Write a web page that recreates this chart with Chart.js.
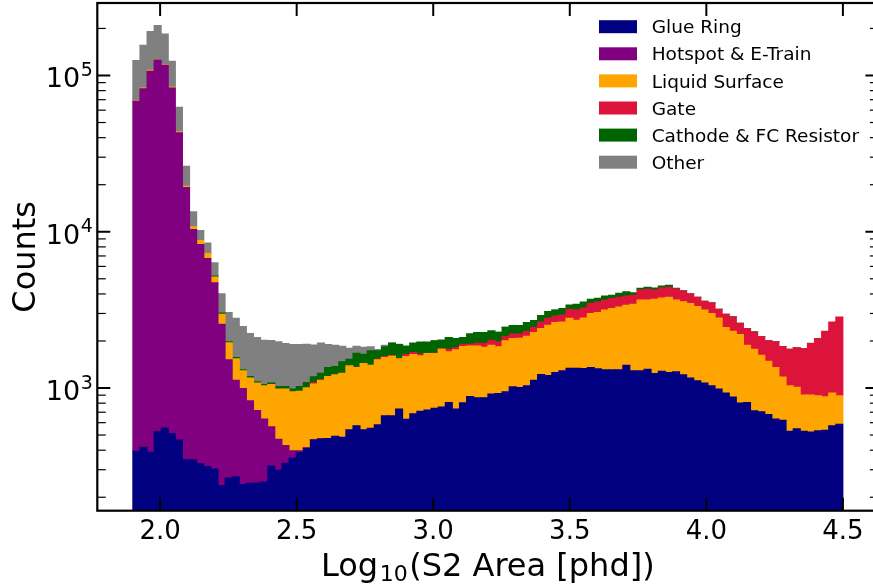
<!DOCTYPE html>
<html>
<head>
<meta charset="utf-8">
<title>S2 area by source</title>
<script src="https://cdn.jsdelivr.net/npm/chart.js@4.4.1/dist/chart.umd.min.js"></script>
<style>
  html, body { margin: 0; padding: 0; background: #fff; overflow: hidden; }
  canvas { display: block; }
</style>
</head>
<body>
<canvas id="s2-chart" width="880" height="588"></canvas>
<script>
// Histogram binning: 100 bins of log10(S2 area) from 1.9 to 4.5
const binStart = 1.9;
const binWidth = 0.026;

// Counts per bin for each source, stacked bottom to top
const glueRing = [
  394, 417, 388, 525, 554, 510, 465, 348, 348, 327,
  314, 303, 238, 266, 270, 241, 246, 247, 250, 317,
  298, 330, 355, 386, 411, 465, 472, 476, 491, 484,
  541, 574, 541, 552, 583, 665, 665, 733, 630, 685,
  709, 723, 741, 755, 809, 733, 805, 884, 866, 866,
  915, 923, 946, 1018, 1009, 1033, 1123, 1221, 1203, 1257,
  1289, 1340, 1340, 1334, 1353, 1327, 1308, 1308, 1308, 1401,
  1289, 1289, 1320, 1239, 1282, 1257, 1270, 1215, 1157, 1112,
  1075, 1033, 984, 928, 875, 801, 809, 716, 705, 678,
  633, 621, 528, 549, 528, 523, 533, 536, 574, 586
];
const hotspot = [
  67900, 81840, 106200, 125000, 115900, 82550, 42600, 18830, 9990, 7970,
  6440, 4420, 2320, 1250, 853, 753, 583, 472, 383, 249,
  172, 98, 42, 11, 4, 2, 1, 0, 0, 0,
  0, 0, 0, 0, 0, 0, 0, 0, 0, 0,
  0, 0, 0, 0, 0, 0, 0, 0, 0, 0,
  0, 0, 0, 0, 0, 0, 0, 0, 0, 0,
  0, 0, 0, 0, 0, 0, 0, 0, 0, 0,
  0, 0, 0, 0, 0, 0, 0, 0, 0, 0,
  0, 0, 0, 0, 0, 0, 0, 0, 0, 0,
  0, 0, 0, 0, 0, 0, 0, 0, 0, 0
];
const liquidSurface = [
  600, 800, 1600, 500, 500, 1240, 640, 380, 420, 505,
  515, 410, 405, 430, 414, 295, 328, 356, 400, 488,
  515, 556, 549, 558, 588, 592, 650, 710, 724, 761,
  846, 779, 894, 849, 932, 903, 934, 804, 961, 953,
  898, 940, 922, 1017, 895, 1022, 1038, 976, 994, 959,
  964, 911, 1057, 1055, 1074, 1112, 1141, 1180, 1319, 1366,
  1360, 1455, 1374, 1474, 1641, 1711, 1851, 1914, 1995, 1983,
  2145, 2372, 2341, 2457, 2487, 2549, 2391, 2356, 2311, 2207,
  2084, 1961, 1824, 1509, 1434, 1397, 1070, 1056, 917, 807,
  720, 553, 505, 464, 373, 378, 359, 343, 354, 306
];
const gate = [
  0, 0, 0, 0, 0, 0, 0, 0, 0, 0,
  0, 0, 0, 0, 0, 0, 0, 0, 0, 0,
  0, 0, 0, 0, 0, 21, 3, 0, 0, 0,
  0, 7, 0, 0, 15, 23, 15, 8, 47, 50,
  39, 8, 8, 17, 68, 52, 64, 47, 76, 111,
  144, 140, 131, 147, 137, 164, 173, 248, 273, 270,
  287, 396, 445, 446, 474, 516, 502, 511, 503, 498,
  486, 578, 620, 543, 598, 604, 663, 606, 529, 487,
  430, 508, 383, 527, 541, 399, 522, 514, 512, 518,
  621, 669, 739, 794, 888, 1035, 1181, 1430, 1721, 1958
];
const cathode = [
  0, 0, 0, 0, 0, 0, 0, 0, 0, 0,
  0, 76, 59, 28, 31, 19, 29, 21, 21, 21,
  39, 39, 38, 68, 82, 100, 116, 167, 158, 226,
  143, 311, 211, 328, 199, 243, 322, 353, 213, 248,
  318, 293, 332, 234, 331, 266, 196, 313, 328, 328,
  297, 301, 315, 290, 290, 314, 264, 258, 288, 266,
  286, 210, 275, 300, 228, 197, 221, 187, 230, 255,
  157, 106, 129, 128, 130, 131, 20, 15, 12, 10,
  8, 6, 5, 4, 4, 3, 3, 2, 2, 2,
  1, 1, 1, 1, 0, 0, 0, 0, 0, 0
];
const other = [
  55800, 73240, 82900, 82700, 67600, 39200, 18820, 6690, 2655, 1390,
  1190, 1130, 994, 1065, 1227, 1166, 1045, 1007, 969, 938,
  951, 903, 914, 875, 822, 708, 697, 545, 506, 380,
  268, 180, 179, 105, 35, 45, 9, 5, 5, 5,
  4, 4, 3, 3, 3, 3, 2, 2, 2, 2,
  2, 2, 2, 1, 1, 1, 1, 1, 1, 1,
  0, 0, 0, 0, 0, 0, 0, 0, 0, 0,
  0, 0, 0, 0, 0, 0, 0, 0, 0, 0,
  0, 0, 0, 0, 0, 0, 0, 0, 0, 0,
  0, 0, 0, 0, 0, 0, 0, 0, 0, 0
];

const seriesLabels = ['Glue Ring', 'Hotspot & E-Train', 'Liquid Surface', 'Gate', 'Cathode & FC Resistor', 'Other'];
const seriesColors = ['navy', 'purple', 'orange', 'crimson', 'darkgreen', 'gray'];
const seriesCounts = [glueRing, hotspot, liquidSurface, gate, cathode, other];

const xTicks = [2.0, 2.5, 3.0, 3.5, 4.0, 4.5];
const xTickLabels = ['2.0', '2.5', '3.0', '3.5', '4.0', '4.5'];
const yDecades = [1e3, 1e4, 1e5];
const yDecadeExponents = ['3', '4', '5'];

const FONT = '"DejaVu Sans", sans-serif';
const binCenters = glueRing.map((_, i) => +(binStart + binWidth * (i + 0.5)).toFixed(3));

const datasets = seriesLabels.map((label, s) => ({
  label,
  data: seriesCounts[s].map((count, i) => ({ x: binCenters[i], y: count || null })),
  backgroundColor: seriesColors[s],
  borderWidth: 0,
  inflateAmount: 0.5,
  barPercentage: 1,
  categoryPercentage: 1,
  stack: 'sources'
}));

function strokeLine(ctx, x1, y1, x2, y2) {
  ctx.beginPath();
  ctx.moveTo(x1, y1);
  ctx.lineTo(x2, y2);
  ctx.stroke();
}

// matplotlib-style frame: inward ticks on all four sides, labels, legend
const axesFrame = {
  id: 'axesFrame',
  afterDraw(chart) {
    const { ctx, chartArea, scales: { x, y } } = chart;
    const { left, right, top, bottom } = chartArea;
    ctx.save();
    ctx.strokeStyle = '#000';
    ctx.fillStyle = '#000';

    ctx.lineWidth = 2;
    xTicks.forEach((value) => {
      const px = x.getPixelForValue(value);
      strokeLine(ctx, px, bottom, px, bottom - 13);
      strokeLine(ctx, px, top, px, top + 13);
    });

    for (let exp = 2; exp <= 5; exp++) {
      for (let m = 1; m <= 9; m++) {
        const value = m * 10 ** exp;
        if (value < y.min || value > y.max) continue;
        const py = y.getPixelForValue(value);
        const len = m === 1 ? 13 : 8.5;
        ctx.lineWidth = m === 1 ? 2 : 1.2;
        strokeLine(ctx, left, py, left + len, py);
        strokeLine(ctx, right, py, right - len, py);
      }
    }

    ctx.lineWidth = 2.2;
    ctx.strokeRect(left, top, right - left, bottom - top);

    // tick labels
    ctx.font = `26px ${FONT}`;
    ctx.textAlign = 'center';
    ctx.textBaseline = 'alphabetic';
    xTicks.forEach((value, i) => ctx.fillText(xTickLabels[i], x.getPixelForValue(value), bottom + 28.6));

    yDecades.forEach((value, i) => {
      const py = y.getPixelForValue(value);
      const labelRight = left - 4.5;
      ctx.font = `19px ${FONT}`;
      const expWidth = ctx.measureText(yDecadeExponents[i]).width;
      ctx.textAlign = 'left';
      ctx.fillText(yDecadeExponents[i], labelRight - expWidth, py + 0.5);
      ctx.font = `27px ${FONT}`;
      ctx.textAlign = 'right';
      ctx.fillText('10', labelRight - expWidth - 0.5, py + 11.8);
    });

    // x axis title with subscript
    const mainFont = `32px ${FONT}`;
    const subFont = `22px ${FONT}`;
    const parts = [['Log', mainFont, 0], ['10', subFont, 5], ['(S2 Area [phd])', mainFont, 0]];
    const gap = 1.5;
    const widths = parts.map(([text, font]) => { ctx.font = font; return ctx.measureText(text).width; });
    const total = widths.reduce((a, b) => a + b, 0) + gap * 2;
    let cursor = (left + right) / 2 - total / 2;
    ctx.textAlign = 'left';
    parts.forEach(([text, font, drop], i) => {
      ctx.font = font;
      ctx.fillText(text, cursor, 576 + drop);
      cursor += widths[i] + (i < parts.length - 1 ? gap : 0);
    });

    // y axis title
    ctx.save();
    ctx.translate(35, (top + bottom) / 2);
    ctx.rotate(-Math.PI / 2);
    ctx.textAlign = 'center';
    ctx.font = mainFont;
    ctx.fillText('Counts', 0, 0);
    ctx.restore();

    // legend, top right inside the axes
    ctx.font = `18.5px ${FONT}`;
    ctx.textAlign = 'left';
    chart.data.datasets.forEach((ds, i) => {
      const rowY = 26.7 + 27.1 * i;
      ctx.fillStyle = ds.backgroundColor;
      ctx.fillRect(599, rowY - 6.5, 38, 13);
      ctx.fillStyle = '#000';
      ctx.fillText(ds.label, 651.7, rowY + 6.6);
    });

    ctx.restore();
  }
};

new Chart(document.getElementById('s2-chart'), {
  type: 'bar',
  data: { datasets },
  options: {
    responsive: false,
    animation: false,
    devicePixelRatio: 1,
    layout: { padding: { left: 97.3, right: 1.6, top: 3, bottom: 77.3 } },
    plugins: { legend: { display: false }, tooltip: { enabled: false } },
    scales: {
      x: {
        type: 'linear', min: 1.77, max: 4.63, offset: false, stacked: true, display: false,
        ticks: { stepSize: 0.5, includeBounds: false }
      },
      y: { type: 'logarithmic', min: 164, max: 291000, stacked: true, display: false }
    }
  },
  plugins: [axesFrame]
});
</script>
</body>
</html>
